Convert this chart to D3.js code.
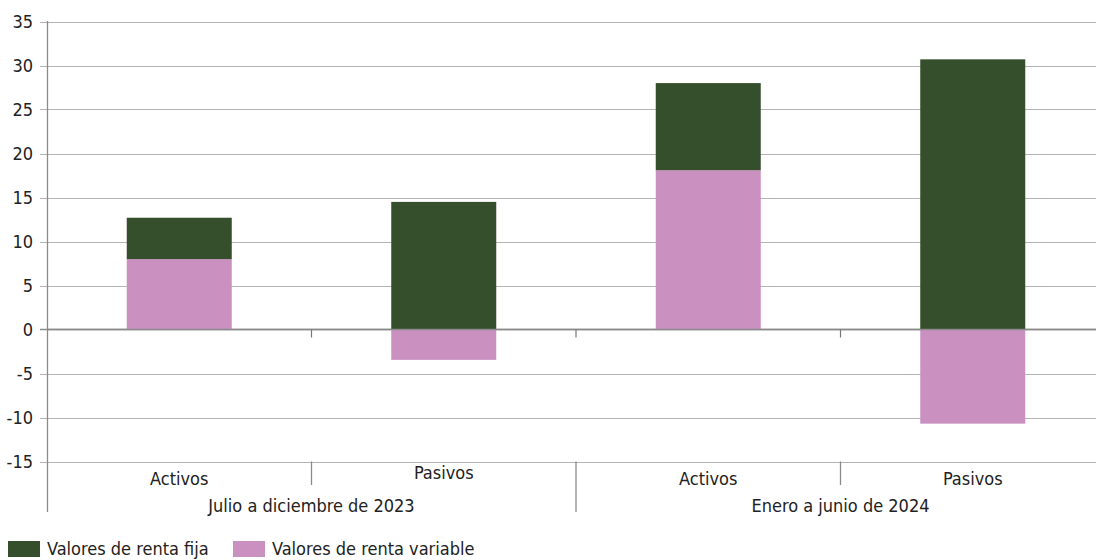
<!DOCTYPE html>
<html><head><meta charset="utf-8">
<script src="https://cdn.jsdelivr.net/npm/d3@7"></script>
<style>body{margin:0;background:#fff}svg{display:block}text{font-family:"Liberation Sans Narrow","DejaVu Sans Condensed",sans-serif;fill:#222}</style>
</head><body><svg id="c" width="1096" height="560"></svg>
<script>
const categories = ["Activos","Pasivos","Activos","Pasivos"];
const groups = ["Julio a diciembre de 2023","Enero a junio de 2024"];
const rentaFija = [4.7, 14.5, 9.9, 30.7];
const rentaVariable = [8.0, -3.45, 18.1, -10.7];
const seriesNames = ["Valores de renta fija","Valores de renta variable"];
const yTicks = [35,30,25,20,15,10,5,0,-5,-10,-15];
const colors = ["#354e2b","#c990c0"];

const svg = d3.select("#c");
const x = d3.scaleBand().domain(d3.range(categories.length)).range([47,1105]).paddingInner(0).paddingOuter(0);
const y = d3.scaleLinear().domain([-15,35]).range([461.5,21.5]);
const barW = 105;

// gridlines
svg.append("g").selectAll("line").data(yTicks).join("line")
  .attr("x1",40).attr("x2",1096).attr("y1",d=>Math.round(y(d))+0.5).attr("y2",d=>Math.round(y(d))+0.5)
  .attr("stroke",d=>d===0?"#8a8a8a":"#b4b4b4").attr("stroke-width",d=>d===0?1.5:1.2);
// y labels
svg.append("g").selectAll("text").data(yTicks).join("text")
  .attr("x",33).attr("y",d=>y(d)).attr("dy","0.35em").attr("text-anchor","end")
  .attr("font-size",18).text(d=>d);

// bars: stack fija positive, variable (positive stacked below fija when positive)
const bars = [];
categories.forEach((c,i)=>{
  const v = rentaVariable[i], f = rentaFija[i];
  if (v >= 0) {
    bars.push({i, y0:0, y1:v, s:1});
    bars.push({i, y0:v, y1:v+f, s:0});
  } else {
    bars.push({i, y0:0, y1:f, s:0});
    bars.push({i, y0:v, y1:0, s:1});
  }
});
svg.append("g").selectAll("rect").data(bars).join("rect")
  .attr("x",d=>x(d.i)+x.bandwidth()/2-barW/2).attr("width",barW)
  .attr("y",d=>y(Math.max(d.y0,d.y1))).attr("height",d=>Math.abs(y(d.y0)-y(d.y1)))
  .attr("fill",d=>colors[d.s]);

// zero line on top
svg.append("line").attr("x1",47).attr("x2",1096).attr("y1",Math.round(y(0))+0.5).attr("y2",Math.round(y(0))+0.5)
  .attr("stroke","#8a8a8a").attr("stroke-width",1.5);
// small ticks at zero line
svg.append("g").selectAll("line").data([1,2,3]).join("line")
  .attr("x1",i=>x(i)).attr("x2",i=>x(i)).attr("y1",y(0)).attr("y2",y(0)+8)
  .attr("stroke","#777").attr("stroke-width",1.2);
// y axis line
svg.append("line").attr("x1",47.5).attr("x2",47.5).attr("y1",21).attr("y2",512).attr("stroke","#8a8a8a").attr("stroke-width",1.3);
// category separators
svg.append("g").selectAll("line").data([1,2,3]).join("line")
  .attr("x1",i=>x(i)).attr("x2",i=>x(i)).attr("y1",y(-15)).attr("y2",i=>i%2===0?512:485)
  .attr("stroke","#8a8a8a").attr("stroke-width",1.3);
// category labels
svg.append("g").selectAll("text").data(categories).join("text")
  .attr("x",(d,i)=>x(i)+x.bandwidth()/2).attr("y",(d,i)=>i===1?473:479).attr("dy","0.35em")
  .attr("text-anchor","middle").attr("font-size",18).text(d=>d);
// group labels
svg.append("g").selectAll("text").data(groups).join("text")
  .attr("x",(d,g)=>x(g*2+1)).attr("y",506).attr("dy","0.35em")
  .attr("text-anchor","middle").attr("font-size",18).text(d=>d);
// legend
const lg = svg.append("g");
const lx = [8,233];
seriesNames.forEach((n,k)=>{
  lg.append("rect").attr("x",lx[k]).attr("y",541).attr("width",32).attr("height",16).attr("fill",colors[k]);
  lg.append("text").attr("x",lx[k]+39).attr("y",549).attr("dy","0.35em").attr("font-size",18).text(n);
});
</script></body></html>
